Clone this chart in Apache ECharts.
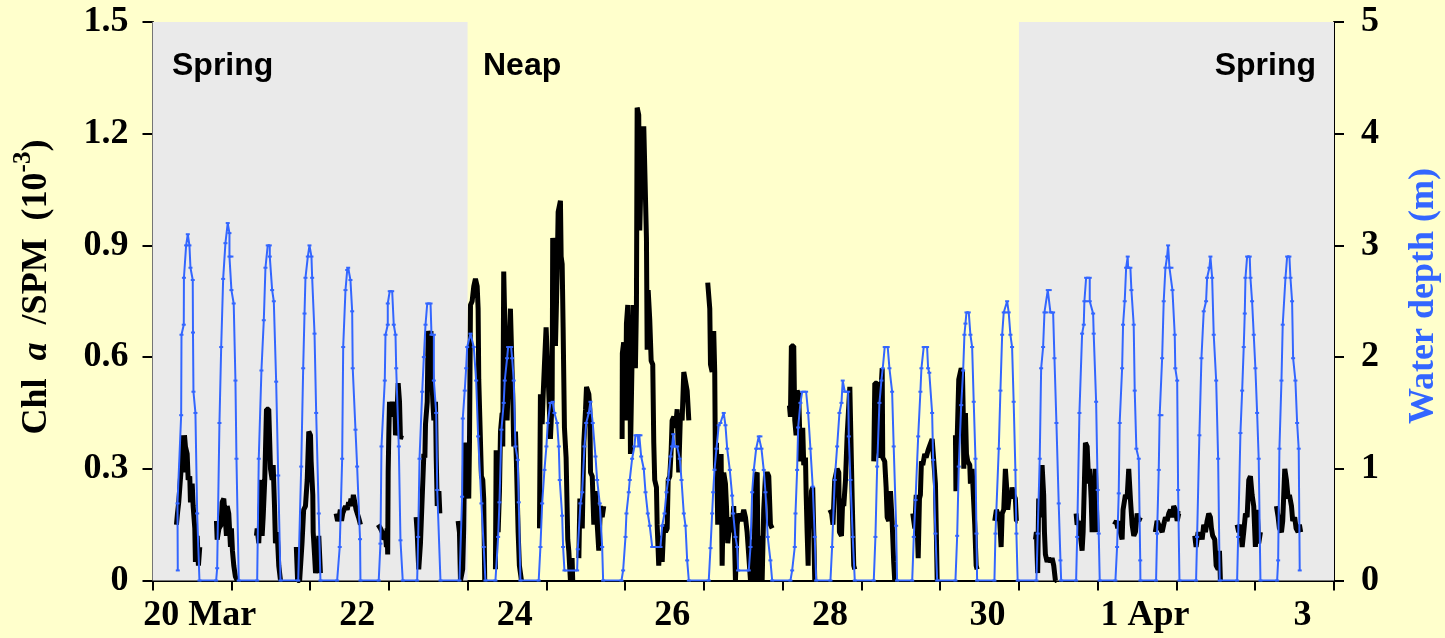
<!DOCTYPE html>
<html>
<head>
<meta charset="utf-8">
<script src="https://cdn.jsdelivr.net/npm/echarts@6/dist/echarts.min.js"></script>
<style>
  html, body { margin: 0; padding: 0; background: #ffffcc; }
  #chart { width: 1445px; height: 638px; }
</style>
</head>
<body>
<div id="chart"></div>
<script>
// Time axis in days of March (32 = 1 Apr, 34 = 3 Apr)
const tickDays = [19.4, 20.4, 21.4, 22.4, 23.4, 24.4, 25.4, 26.4, 27.4, 28.4, 29.4, 30.4, 31.4, 32.4, 33.4, 34.4];
const labelDays = [20, 22, 24, 26, 28, 30, 32, 34];
const labelText = ['20 Mar', '22', '24', '26', '28', '30', '1 Apr', '3'];
const springPeriods = [[19.4, 23.4], [30.4, 34.4]];

// Water depth (m), one block per tide
const waterDepth = [
  [[19.721,0.09],[19.717,0.69],[19.764,1.48],[19.768,2.2],[19.797,2.29],[19.799,2.71],[19.827,3.0],[19.848,3.1],[19.869,3.0],[19.882,2.8],[19.911,2.69],[19.914,2.22],[19.92,1.69],[19.945,1.5],[19.967,0.6],[19.996,0]],
  [[20.208,0],[20.221,0.11],[20.25,1.41],[20.272,2.09],[20.297,2.7],[20.326,3.02],[20.355,3.2],[20.377,3.11],[20.377,2.9],[20.402,2.9],[20.402,2.6],[20.431,2.48],[20.453,1.79],[20.466,1.09],[20.495,0]],
  [[20.729,0],[20.749,1.09],[20.783,1.88],[20.813,2.33],[20.834,2.8],[20.863,3.0],[20.889,3.0],[20.889,2.9],[20.919,2.6],[20.94,2.5],[20.97,1.78],[20.996,0.94],[21.025,0]],
  [[21.25,0],[21.288,1.02],[21.313,1.9],[21.33,2.39],[21.342,2.71],[21.372,2.9],[21.393,3.0],[21.418,2.9],[21.427,2.71],[21.457,2.21],[21.478,1.5],[21.511,0.6],[21.532,0]],
  [[21.744,0],[21.777,0.3],[21.808,1.09],[21.821,2.09],[21.85,2.6],[21.872,2.78],[21.884,2.8],[21.913,2.69],[21.935,2.41],[21.942,1.9],[21.977,1.35],[21.998,1.02],[22.035,0.37],[22.04,0]],
  [[22.272,0],[22.294,0.33],[22.307,1.2],[22.349,1.79],[22.358,2.2],[22.387,2.29],[22.387,2.48],[22.412,2.59],[22.443,2.59],[22.463,2.29],[22.485,2.2],[22.494,1.9],[22.527,1.2],[22.548,0.36],[22.577,0]],
  [[22.76,0],[22.773,0.39],[22.79,1.09],[22.824,1.69],[22.845,2.0],[22.866,2.29],[22.888,2.48],[22.93,2.48],[22.942,2.2],[22.972,2.2],[22.972,1.79],[23.002,1.5],[23.015,0.81],[23.056,0]],
  [[23.297,0],[23.331,0.75],[23.339,1.45],[23.364,1.7],[23.382,1.9],[23.395,2.09],[23.437,2.21],[23.479,2.09],[23.509,1.79],[23.534,1.29],[23.576,0.69],[23.605,0.3],[23.627,0]],
  [[23.754,0],[23.788,0.39],[23.805,0.7],[23.83,1.35],[23.859,1.59],[23.872,1.79],[23.902,1.99],[23.915,2.09],[23.953,2.09],[23.966,1.99],[23.986,1.79],[24.008,1.2],[24.037,1.08],[24.05,0.7],[24.071,0]],
  [[24.303,0],[24.325,0.3],[24.347,0.69],[24.376,0.99],[24.401,1.2],[24.418,1.41],[24.452,1.59],[24.481,1.6],[24.503,1.5],[24.537,1.41],[24.558,1.2],[24.57,0.9],[24.601,0.58],[24.613,0.3],[24.63,0.09],[24.791,0.09]],
  [[24.799,0.28],[24.833,0.69],[24.855,0.79],[24.884,1.2],[24.906,1.41],[24.939,1.5],[24.96,1.6],[24.989,1.41],[25.024,1.11],[25.045,0.9],[25.078,0.69],[25.109,0.3],[25.121,0]],
  [[25.354,0],[25.375,0.09],[25.405,0.39],[25.417,0.6],[25.446,0.79],[25.459,0.9],[25.489,1.09],[25.518,1.2],[25.531,1.3],[25.56,1.3],[25.57,1.2],[25.58,1.3],[25.595,1.3],[25.604,1.11],[25.637,1.0],[25.659,0.79],[25.688,0.6],[25.713,0.49],[25.744,0.3],[25.849,0.3]],
  [[25.871,0.49],[25.9,0.6],[25.925,0.79],[25.947,0.9],[25.976,1.11],[25.997,1.2],[26.012,1.31],[26.027,1.2],[26.061,1.2],[26.094,1.09],[26.116,0.9],[26.145,0.6],[26.167,0.49],[26.188,0.18],[26.209,0]],
  [[26.462,0],[26.484,0.29],[26.505,0.6],[26.518,0.79],[26.535,0.99],[26.56,1.18],[26.589,1.39],[26.61,1.41],[26.652,1.5],[26.674,1.39],[26.696,1.18],[26.729,0.99],[26.759,0.76],[26.772,0.6],[26.801,0.39],[26.823,0.3],[26.835,0.09],[26.97,0.09]],
  [[26.992,0.3],[27.013,0.79],[27.034,0.99],[27.064,1.18],[27.089,1.18],[27.097,1.29],[27.118,1.29],[27.131,1.18],[27.16,0.99],[27.182,0.79],[27.211,0.39],[27.245,0.18],[27.267,0]],
  [[27.499,0],[27.521,0.09],[27.554,0.3],[27.563,0.6],[27.584,0.99],[27.597,1.37],[27.626,1.59],[27.648,1.69],[27.698,1.69],[27.724,1.5],[27.753,1.18],[27.782,0.84],[27.808,0.39],[27.826,0]],
  [[28.007,0],[28.028,0.3],[28.061,0.9],[28.092,1.2],[28.121,1.5],[28.147,1.59],[28.163,1.79],[28.189,1.69],[28.232,1.69],[28.24,1.29],[28.261,0.9],[28.29,0.39],[28.316,0]],
  [[28.557,0],[28.578,0.39],[28.6,1.02],[28.629,1.59],[28.654,1.79],[28.671,1.9],[28.696,2.09],[28.734,2.09],[28.756,1.9],[28.79,1.69],[28.81,1.2],[28.841,0.49],[28.853,0]],
  [[29.045,0],[29.065,0.39],[29.087,0.72],[29.121,1.29],[29.149,1.69],[29.162,1.9],[29.191,2.09],[29.234,2.09],[29.247,1.9],[29.262,1.86],[29.298,1.5],[29.311,1.08],[29.34,0.42],[29.362,0]],
  [[29.594,0],[29.616,0.4],[29.636,1.02],[29.667,1.57],[29.692,1.88],[29.708,2.2],[29.721,2.3],[29.734,2.4],[29.763,2.4],[29.784,2.2],[29.806,2.09],[29.826,1.6],[29.848,1.09],[29.861,0.42],[29.869,0]],
  [[30.089,0],[30.102,0.42],[30.144,1.18],[30.165,1.7],[30.187,2.2],[30.207,2.4],[30.23,2.4],[30.25,2.5],[30.27,2.4],[30.292,2.2],[30.313,2.09],[30.333,1.6],[30.355,0.99],[30.368,0.42],[30.384,0]],
  [[30.622,0],[30.638,0.42],[30.664,1.09],[30.682,1.9],[30.707,2.09],[30.724,2.4],[30.743,2.4],[30.766,2.6],[30.791,2.6],[30.8,2.4],[30.834,2.4],[30.851,1.99],[30.876,1.41],[30.905,0.69],[30.927,0.18],[30.936,0]],
  [[31.126,0],[31.139,0.39],[31.168,1.5],[31.202,2.21],[31.223,2.29],[31.231,2.5],[31.253,2.5],[31.253,2.71],[31.299,2.71],[31.299,2.5],[31.342,2.39],[31.349,2.21],[31.38,1.6],[31.4,0.81],[31.413,0.42],[31.426,0]],
  [[31.625,0],[31.646,0.3],[31.667,0.78],[31.679,1.41],[31.71,1.9],[31.722,2.29],[31.743,2.5],[31.761,2.8],[31.781,2.9],[31.786,2.8],[31.815,2.8],[31.828,2.6],[31.857,2.29],[31.87,1.7],[31.891,1.18],[31.921,1.09],[31.94,0.18],[31.942,0]],
  [[32.141,0],[32.154,0.42],[32.175,0.99],[32.187,1.48],[32.209,1.48],[32.218,1.99],[32.238,2.5],[32.26,2.8],[32.281,2.9],[32.294,3.0],[32.311,2.8],[32.336,2.8],[32.349,2.6],[32.378,2.2],[32.385,1.9],[32.409,1.79],[32.421,0.81],[32.438,0]],
  [[32.649,0],[32.662,0.39],[32.691,1.3],[32.717,1.99],[32.746,2.41],[32.776,2.5],[32.789,2.71],[32.818,2.8],[32.831,2.9],[32.853,2.71],[32.873,2.2],[32.904,1.79],[32.929,1.09],[32.949,0]],
  [[33.17,0],[33.183,0.39],[33.212,1.32],[33.234,1.7],[33.254,2.09],[33.267,2.39],[33.276,2.71],[33.297,2.9],[33.33,2.9],[33.339,2.71],[33.36,2.5],[33.381,2.2],[33.402,1.9],[33.424,1.5],[33.444,1.09],[33.466,0]],
  [[33.678,0],[33.691,0.18],[33.707,1.18],[33.733,1.79],[33.749,2.29],[33.784,2.71],[33.805,2.9],[33.834,2.9],[33.847,2.71],[33.868,2.5],[33.881,1.99],[33.91,1.79],[33.932,1.41],[33.952,1.18],[33.965,0.09]]
];

// Chl a / SPM (x 10^-3), one block per submerged period
const chlSpm = [
  [[19.704,0.15],[19.717,0.18],[19.733,0.21],[19.764,0.3],[19.784,0.39],[19.797,0.29],[19.806,0.39],[19.818,0.36],[19.84,0.34],[19.853,0.27],[19.873,0.28],[19.882,0.21],[19.904,0.26],[19.916,0.2],[19.937,0.14],[19.945,0.05],[19.967,0.12],[19.983,0.04],[20.0,0.09]],
  [[20.212,0.16],[20.221,0.11],[20.244,0.14],[20.272,0.15],[20.284,0.21],[20.305,0.22],[20.326,0.16],[20.339,0.12],[20.348,0.2],[20.368,0.18],[20.39,0.09],[20.402,0.14],[20.415,0.08],[20.432,0.04],[20.453,0.01],[20.475,0]],
  [[20.72,0.12],[20.729,0.14],[20.749,0.1],[20.783,0.27],[20.792,0.12],[20.805,0.17],[20.825,0.27],[20.847,0.46],[20.876,0.46],[20.898,0.3],[20.919,0.27],[20.932,0.31],[20.949,0.2],[20.961,0.1],[20.983,0.13],[21.003,0.04],[21.025,0]],
  [[21.226,0.09],[21.242,0],[21.268,0],[21.298,0.1],[21.319,0.19],[21.342,0.2],[21.364,0.27],[21.384,0.4],[21.406,0.39],[21.414,0.32],[21.435,0.23],[21.44,0.13],[21.457,0.07],[21.47,0.02],[21.491,0.04],[21.511,0.12],[21.532,0.02]],
  [[21.731,0.18],[21.75,0.16],[21.769,0.17],[21.785,0.19],[21.8,0.16],[21.815,0.18],[21.833,0.18],[21.85,0.2],[21.872,0.19],[21.89,0.21],[21.905,0.2],[21.92,0.22],[21.935,0.2],[21.95,0.23],[21.968,0.21],[21.985,0.19],[21.998,0.19],[22.015,0.17],[22.028,0.16],[22.04,0.15]],
  [[22.265,0.15],[22.294,0.14],[22.316,0.13],[22.336,0.11],[22.358,0.12],[22.37,0.09],[22.379,0.14],[22.386,0.07],[22.392,0.29],[22.4,0.39],[22.409,0.48],[22.425,0.44],[22.443,0.48],[22.46,0.45],[22.476,0.48],[22.485,0.39],[22.498,0.41],[22.519,0.53],[22.536,0.48],[22.548,0.38],[22.561,0.39]],
  [[22.747,0.17],[22.76,0.13],[22.78,0.03],[22.802,0.1],[22.824,0.1],[22.845,0.34],[22.858,0.33],[22.866,0.42],[22.888,0.48],[22.9,0.67],[22.921,0.65],[22.935,0.67],[22.942,0.57],[22.959,0.48],[22.972,0.43],[22.993,0.48],[23.002,0.33],[23.015,0.2],[23.036,0.24],[23.048,0.18]],
  [[23.28,0.16],[23.297,0.13],[23.31,0],[23.322,0],[23.338,0.03],[23.351,0.14],[23.364,0.37],[23.38,0.35],[23.395,0.33],[23.415,0.22],[23.424,0.36],[23.437,0.74],[23.458,0.75],[23.479,0.79],[23.5,0.81],[23.522,0.79],[23.534,0.73],[23.542,0.54],[23.555,0.44],[23.576,0.28],[23.593,0.27],[23.605,0.22],[23.618,0]],
  [[23.754,0.03],[23.763,0.35],[23.788,0.13],[23.805,0.24],[23.818,0.4],[23.839,0.45],[23.847,0.36],[23.859,0.83],[23.881,0.83],[23.89,0.52],[23.902,0.43],[23.923,0.43],[23.944,0.73],[23.966,0.73],[23.973,0.5],[23.986,0.36],[24.008,0.4],[24.02,0.32],[24.042,0.13],[24.058,0.04],[24.084,0]],
  [[24.313,0.14],[24.325,0.5],[24.347,0.42],[24.36,0.5],[24.376,0.58],[24.397,0.68],[24.418,0.68],[24.43,0.51],[24.452,0.38],[24.474,0.49],[24.481,0.92],[24.503,0.79],[24.516,0.63],[24.537,0.82],[24.55,0.99],[24.579,1.02],[24.588,0.87],[24.601,0.85],[24.613,0.68],[24.63,0.41],[24.651,0.33],[24.672,0.11],[24.685,0.08],[24.706,0],[24.727,0.06],[24.735,0]],
  [[24.813,0.06],[24.826,0.22],[24.856,0.14],[24.876,0.37],[24.898,0.46],[24.91,0.52],[24.94,0.5],[24.952,0.46],[24.961,0.29],[24.983,0.28],[25.003,0.15],[25.024,0.24],[25.046,0.15],[25.066,0.08],[25.087,0.2],[25.109,0.17],[25.129,0.2]],
  [[25.362,0.38],[25.365,0.61],[25.382,0.64],[25.405,0.43],[25.417,0.69],[25.434,0.74],[25.446,0.55],[25.459,0.69],[25.468,0.34],[25.489,0.6],[25.502,0.74],[25.519,0.71],[25.531,0.57],[25.544,0.74],[25.553,1.27],[25.573,1.25],[25.586,0.94],[25.608,1.14],[25.624,1.03],[25.637,1.22],[25.659,1.22],[25.671,0.92],[25.68,0.62],[25.693,0.78],[25.713,0.7],[25.731,0.59],[25.751,0.58],[25.764,0.37],[25.776,0.27],[25.798,0.25],[25.807,0.15],[25.827,0.04],[25.849,0.12],[25.871,0.05],[25.891,0.15],[25.913,0.13],[25.934,0.14],[25.947,0.27],[25.967,0.28],[25.985,0.35],[25.997,0.43],[26.018,0.44],[26.04,0.41],[26.061,0.46],[26.081,0.29],[26.103,0.45],[26.124,0.43],[26.145,0.56],[26.167,0.56],[26.188,0.51],[26.209,0.43]],
  [[26.449,0.8],[26.475,0.73],[26.484,0.58],[26.505,0.56],[26.525,0.67],[26.538,0.56],[26.547,0.3],[26.56,0.37],[26.576,0.15],[26.598,0.29],[26.619,0.34],[26.632,0.04],[26.652,0.29],[26.674,0.26],[26.687,0.2],[26.703,0.1],[26.737,0.17],[26.759,0.13],[26.779,0.2],[26.801,0],[26.823,0.15],[26.843,0.18],[26.877,0.16],[26.906,0.19],[26.928,0.17],[26.949,0.13],[26.97,0.13],[26.992,0],[27.013,0.11],[27.034,0],[27.055,0.28],[27.077,0.29],[27.089,0],[27.118,0.12],[27.14,0],[27.16,0.19],[27.182,0.28],[27.203,0.29],[27.224,0.28],[27.245,0.15],[27.267,0.14]],
  [[27.486,0.47],[27.499,0.44],[27.511,0.63],[27.541,0.63],[27.554,0.43],[27.571,0.39],[27.584,0.51],[27.604,0.5],[27.626,0.32],[27.639,0.36],[27.655,0.41],[27.668,0.31],[27.69,0.33],[27.699,0.23],[27.711,0.13],[27.724,0.04],[27.732,0.19],[27.753,0.14],[27.766,0.24],[27.782,0.25],[27.795,0.13],[27.808,0]],
  [[28.0,0.19],[28.022,0.18],[28.039,0.15],[28.061,0.27],[28.092,0.3],[28.113,0.29],[28.121,0.13],[28.147,0.12],[28.163,0.22],[28.176,0.2],[28.198,0.27],[28.219,0.39],[28.24,0.47],[28.253,0.52],[28.274,0.52],[28.283,0.22],[28.303,0.04],[28.316,0.03]],
  [[28.557,0.32],[28.57,0.53],[28.6,0.53],[28.613,0.36],[28.629,0.33],[28.642,0.49],[28.664,0.57],[28.671,0.33],[28.696,0.32],[28.714,0.25],[28.727,0.17],[28.747,0.16],[28.769,0.24],[28.79,0.16],[28.81,0.05],[28.823,0]],
  [[29.052,0.18],[29.078,0.14],[29.096,0.23],[29.121,0.06],[29.137,0.22],[29.149,0.23],[29.162,0.32],[29.179,0.31],[29.204,0.34],[29.222,0.33],[29.247,0.35],[29.264,0.36],[29.298,0.38],[29.319,0.38],[29.34,0.26],[29.353,0.11],[29.362,0]],
  [[29.594,0.39],[29.6,0.24],[29.616,0.38],[29.636,0.54],[29.667,0.57],[29.683,0.56],[29.692,0.46],[29.7,0.3],[29.721,0.45],[29.734,0.34],[29.75,0.32],[29.776,0.31],[29.784,0.26],[29.806,0.3],[29.826,0.3],[29.839,0.15],[29.857,0.04],[29.869,0.03]],
  [[30.093,0.16],[30.114,0.19],[30.131,0.18],[30.156,0.16],[30.174,0.09],[30.187,0.18],[30.207,0.19],[30.228,0.3],[30.241,0.26],[30.258,0.19],[30.283,0.24],[30.301,0.22],[30.313,0.25],[30.333,0.23],[30.355,0.22],[30.368,0.16],[30.384,0.16]],
  [[30.61,0.11],[30.622,0.13],[30.638,0.02],[30.651,0.22],[30.673,0.17],[30.694,0.31],[30.714,0.23],[30.724,0.13],[30.736,0.07],[30.758,0.05],[30.778,0.06],[30.8,0.05],[30.821,0.06],[30.842,0.04],[30.863,0],[30.876,0]],
  [[31.126,0.18],[31.139,0.15],[31.159,0.16],[31.181,0.12],[31.202,0.08],[31.215,0.13],[31.231,0.13],[31.244,0.37],[31.266,0.36],[31.286,0.26],[31.299,0.3],[31.317,0.22],[31.329,0.13],[31.35,0.2],[31.371,0.3],[31.393,0.13]],
  [[31.612,0.15],[31.638,0.16],[31.654,0.14],[31.672,0.16],[31.688,0.13],[31.71,0.11],[31.722,0.19],[31.752,0.23],[31.773,0.22],[31.794,0.3],[31.815,0.22],[31.837,0.15],[31.858,0.12],[31.879,0.13],[31.901,0.18],[31.921,0.16],[31.942,0.17]],
  [[32.132,0.13],[32.154,0.16],[32.175,0.15],[32.196,0.14],[32.218,0.13],[32.238,0.15],[32.26,0.17],[32.281,0.16],[32.302,0.18],[32.323,0.19],[32.345,0.17],[32.365,0.2],[32.387,0.19],[32.409,0.16],[32.429,0.18],[32.45,0.18]],
  [[32.632,0.12],[32.649,0.09],[32.675,0.13],[32.691,0.11],[32.704,0.13],[32.726,0.11],[32.746,0.15],[32.768,0.13],[32.789,0.16],[32.81,0.18],[32.831,0.17],[32.844,0.14],[32.86,0.12],[32.886,0.11],[32.904,0.04],[32.929,0.03],[32.946,0.08],[32.958,0]],
  [[33.17,0.15],[33.191,0.13],[33.212,0.15],[33.234,0.09],[33.254,0.13],[33.276,0.18],[33.297,0.17],[33.318,0.27],[33.339,0.28],[33.36,0.23],[33.381,0.2],[33.402,0.09],[33.424,0.19],[33.444,0.1],[33.466,0.13]],
  [[33.669,0.2],[33.691,0.17],[33.707,0.14],[33.733,0.13],[33.749,0.16],[33.775,0.3],[33.796,0.27],[33.818,0.22],[33.834,0.23],[33.86,0.2],[33.876,0.16],[33.901,0.17],[33.919,0.14],[33.944,0.13],[33.961,0.15],[33.977,0.13]]
];

const SERIF = '"Liberation Serif", "Times New Roman", serif';
const SANS = '"Liberation Sans", Arial, sans-serif';
const BLUE = '#3366ff';

// Depth is one continuous trace; Chl a/SPM breaks between submerged periods
const depthLine = waterDepth.flat();
const chlLine = [];
chlSpm.forEach((seg, i) => {
  if (i > 0) chlLine.push([seg[0][0], null]);
  seg.forEach(p => chlLine.push(p));
});

const chart = echarts.init(document.getElementById('chart'), null, { renderer: 'canvas' });

const axisFont = { fontFamily: SERIF, fontWeight: 'bold', fontSize: 36, color: '#000' };

chart.setOption({
  animation: false,
  backgroundColor: '#ffffcc',
  grid: { left: 152.5, right: 111, top: 22, bottom: 57.5, containLabel: false },
  xAxis: {
    type: 'value',
    min: tickDays[0],
    max: tickDays[tickDays.length - 1],
    axisLine: { show: true, onZero: false, lineStyle: { color: '#000', width: 2 } },
    axisTick: { show: true, inside: false, length: 10, customValues: tickDays, lineStyle: { color: '#000', width: 2 } },
    axisLabel: {
      show: true, margin: 17, customValues: labelDays, ...axisFont,
      formatter: v => labelText[labelDays.indexOf(Math.round(v))]
    },
    splitLine: { show: false }
  },
  yAxis: [
    {
      type: 'value', position: 'left', min: 0, max: 1.5, interval: 0.3,
      axisLine: { show: true, lineStyle: { color: '#000', width: 2 } },
      axisTick: { show: true, inside: false, length: 10, lineStyle: { color: '#000', width: 2 } },
      axisLabel: { margin: 24, ...axisFont, formatter: v => (v === 0 ? '0' : v.toFixed(1)) },
      splitLine: { show: false }
    },
    {
      type: 'value', position: 'right', min: 0, max: 5, interval: 1,
      axisLine: { show: true, lineStyle: { color: '#000', width: 2 } },
      axisTick: { show: true, inside: false, length: 10, lineStyle: { color: '#000', width: 2 } },
      axisLabel: { margin: 27, ...axisFont },
      splitLine: { show: false }
    }
  ],
  series: [
    {
      name: 'Chl a/SPM',
      type: 'line',
      yAxisIndex: 0,
      data: chlLine,
      showSymbol: false,
      connectNulls: false,
      lineStyle: { color: '#000', width: 5, join: 'bevel', cap: 'butt' },
      z: 3,
      markArea: {
        silent: true,
        itemStyle: { color: '#eaeaea' },
        data: springPeriods.map(p => [{ xAxis: p[0] }, { xAxis: p[1] }])
      }
    },
    {
      name: 'Water depth',
      type: 'line',
      yAxisIndex: 1,
      data: depthLine,
      symbol: 'rect',
      symbolSize: [4, 2],
      showSymbol: true,
      itemStyle: { color: BLUE },
      lineStyle: { color: BLUE, width: 2 },
      z: 4
    }
  ],
  graphic: [
    {
      type: 'text', x: 33, y: 287, rotation: Math.PI / 2, z: 100,
      style: {
        text: '{n|Chl  }{i|a}{n|  /SPM  (10}{s|-3}{n|)}',
        align: 'center', verticalAlign: 'middle',
        rich: {
          n: { fontFamily: SERIF, fontWeight: 'bold', fontSize: 36, lineHeight: 44, fill: '#000', verticalAlign: 'bottom' },
          i: { fontFamily: SERIF, fontWeight: 'bold', fontStyle: 'italic', fontSize: 36, lineHeight: 44, fill: '#000', verticalAlign: 'bottom' },
          s: { fontFamily: SERIF, fontWeight: 'bold', fontSize: 25, lineHeight: 30, fill: '#000', verticalAlign: 'top' }
        }
      }
    },
    {
      type: 'text', x: 1424, y: 296, rotation: Math.PI / 2, z: 100,
      style: {
        text: 'Water depth (m)', align: 'center', verticalAlign: 'middle',
        font: 'bold 36px ' + SERIF, fill: BLUE
      }
    },
    {
      type: 'text', x: 172, y: 66, z: 100,
      style: { text: 'Spring', align: 'left', verticalAlign: 'middle', font: 'bold 32px ' + SANS, fill: '#000' }
    },
    {
      type: 'text', x: 483, y: 66, z: 100,
      style: { text: 'Neap', align: 'left', verticalAlign: 'middle', font: 'bold 32px ' + SANS, fill: '#000' }
    },
    {
      type: 'text', x: 1316, y: 66, z: 100,
      style: { text: 'Spring', align: 'right', verticalAlign: 'middle', font: 'bold 32px ' + SANS, fill: '#000' }
    }
  ]
});
</script>
</body>
</html>
